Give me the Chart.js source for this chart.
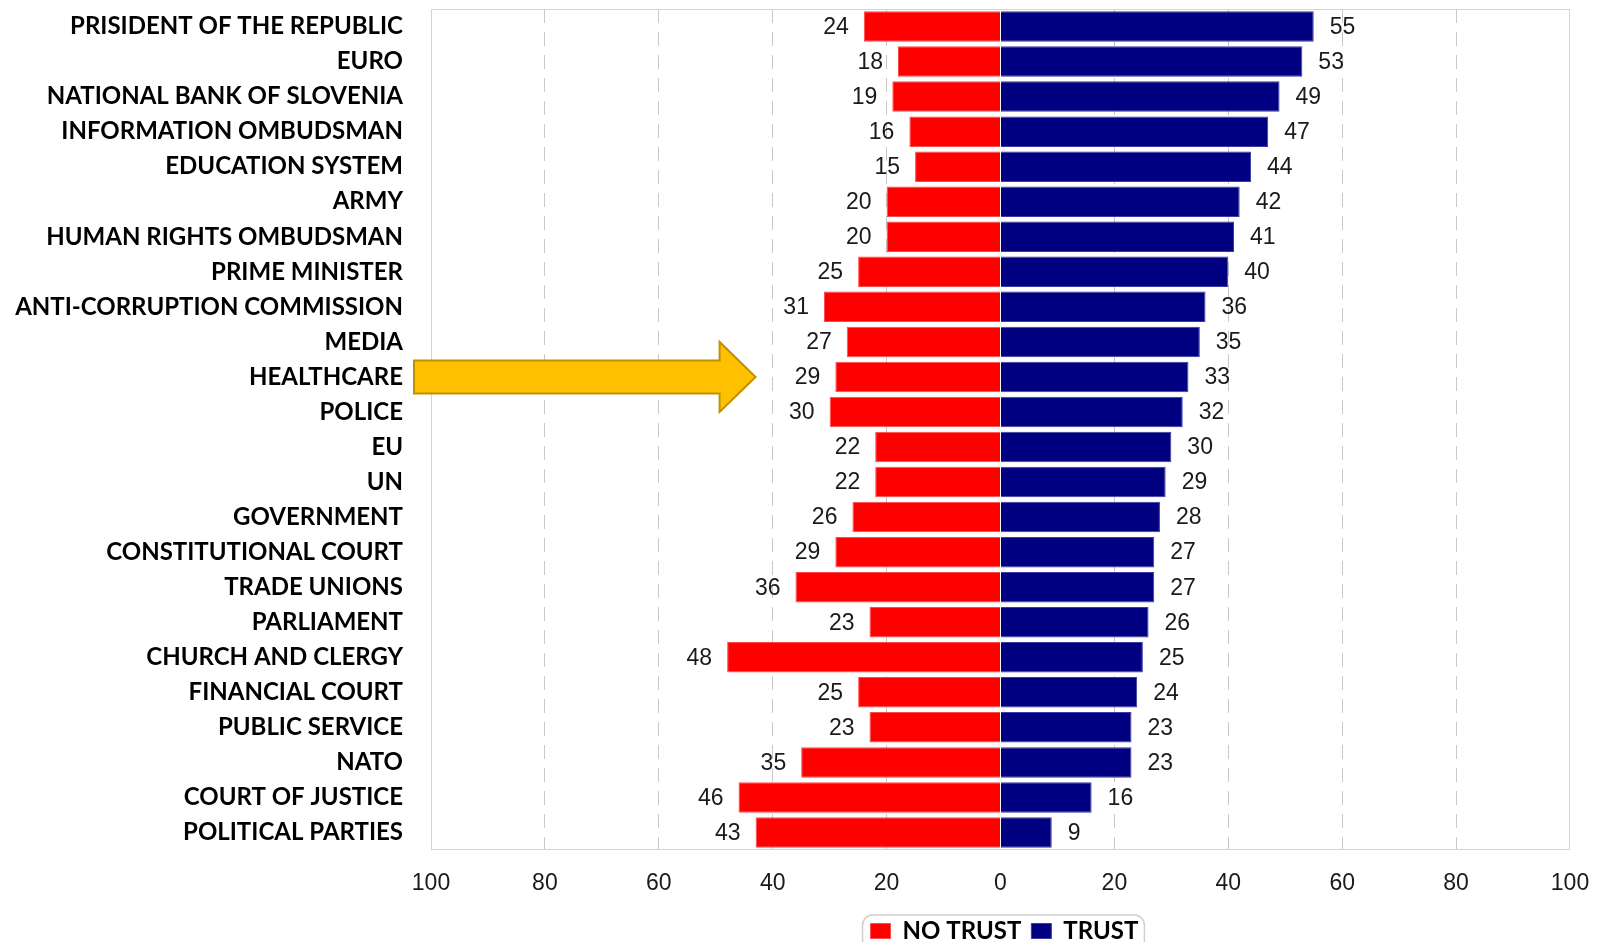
<!DOCTYPE html>
<html>
<head>
<meta charset="utf-8">
<script src="https://cdn.jsdelivr.net/npm/chart.js@4.4.1/dist/chart.umd.min.js"></script>
<style>
  html, body { margin: 0; padding: 0; background: #fff; overflow: hidden; }
  #wrap { position: relative; width: 1597px; height: 953px; }
</style>
</head>
<body>
<div id="wrap"><canvas id="trustChart"></canvas></div>
<script>
const institutions = [
  'PRISIDENT OF THE REPUBLIC', 'EURO', 'NATIONAL BANK OF SLOVENIA', 'INFORMATION OMBUDSMAN',
  'EDUCATION SYSTEM', 'ARMY', 'HUMAN RIGHTS OMBUDSMAN', 'PRIME MINISTER',
  'ANTI-CORRUPTION COMMISSION', 'MEDIA', 'HEALTHCARE', 'POLICE', 'EU', 'UN', 'GOVERNMENT',
  'CONSTITUTIONAL COURT', 'TRADE UNIONS', 'PARLIAMENT', 'CHURCH AND CLERGY',
  'FINANCIAL COURT', 'PUBLIC SERVICE', 'NATO', 'COURT OF JUSTICE', 'POLITICAL PARTIES'
];
const noTrust = [24, 18, 19, 16, 15, 20, 20, 25, 31, 27, 29, 30, 22, 22, 26, 29, 36, 23, 48, 25, 23, 35, 46, 43];
const trust = [55, 53, 49, 47, 44, 42, 41, 40, 36, 35, 33, 32, 30, 29, 28, 27, 27, 26, 25, 24, 23, 23, 16, 9];
const seriesNames = ['NO TRUST', 'TRUST'];
const axisTicks = [-100, -80, -60, -40, -20, 0, 20, 40, 60, 80, 100];
const highlighted = 'HEALTHCARE';

const labelFont = '"Lato", "Open Sans", sans-serif';
const numFont = '"Liberation Sans", Arial, sans-serif';

// value labels next to the bar ends
const valueLabels = {
  id: 'valueLabels',
  afterDatasetsDraw(chart) {
    const ctx = chart.ctx;
    ctx.save();
    ctx.font = '23px ' + numFont;
    ctx.fillStyle = '#1a1a1a';
    ctx.textBaseline = 'middle';
    chart.data.datasets.forEach((ds, i) => {
      chart.getDatasetMeta(i).data.forEach((bar, j) => {
        const v = ds.data[j];
        if (v < 0) {
          ctx.textAlign = 'right';
          ctx.fillText(Math.abs(v), bar.x - 15, bar.y + 1);
        } else {
          ctx.textAlign = 'left';
          ctx.fillText(v, bar.x + 16, bar.y + 1);
        }
      });
    });
    ctx.restore();
  }
};

// frame, arrow and legend box
const extras = {
  id: 'extras',
  afterLayout(chart) {
    const lg = chart.legend;
    const mid = (chart.chartArea.left + chart.chartArea.right) / 2 + 4;
    const shift = mid - (lg.left + lg.right) / 2;
    lg.left += shift;
    lg.right += shift;
  },
  afterDatasetsDraw(chart) {
    const ctx = chart.ctx;
    const a = chart.chartArea;
    ctx.save();
    ctx.strokeStyle = '#d4d4d4';
    ctx.lineWidth = 1;
    ctx.strokeRect(a.left + 0.5, a.top + 0.5, a.right - a.left - 1, a.bottom - a.top - 1);

    // yellow arrow pointing at the highlighted row
    const y = chart.scales.y.getPixelForValue(institutions.indexOf(highlighted));
    const tip = chart.scales.x.getPixelForValue(-noTrust[institutions.indexOf(highlighted)] - 14);
    const start = a.left - 17;
    const headBase = tip - 36;
    ctx.beginPath();
    ctx.moveTo(start, y - 16.5);
    ctx.lineTo(headBase, y - 16.5);
    ctx.lineTo(headBase, y - 35);
    ctx.lineTo(tip, y);
    ctx.lineTo(headBase, y + 35);
    ctx.lineTo(headBase, y + 16.5);
    ctx.lineTo(start, y + 16.5);
    ctx.closePath();
    ctx.fillStyle = '#FFC000';
    ctx.fill();
    ctx.strokeStyle = '#C09000';
    ctx.lineWidth = 2;
    ctx.stroke();
    ctx.restore();
  },
  afterDraw(chart) {
    const boxes = chart.legend.legendHitBoxes;
    if (!boxes || !boxes.length) return;
    const ctx = chart.ctx;
    const l = boxes[0].left - 8;
    const r = boxes[boxes.length - 1].left + boxes[boxes.length - 1].width + 6;
    const t = boxes[0].top - 4;
    ctx.save();
    ctx.strokeStyle = '#cfcfcf';
    ctx.lineWidth = 1.5;
    ctx.beginPath();
    ctx.roundRect(l, t, r - l, 60, 10);
    ctx.stroke();
    ctx.restore();
  }
};

const ctx = document.getElementById('trustChart').getContext('2d');
new Chart(ctx, {
  type: 'bar',
  data: {
    labels: institutions,
    datasets: [
      {
        label: seriesNames[0],
        data: noTrust.map(v => -v),
        backgroundColor: '#FF0000',
        borderColor: '#FF4a4a',
        borderWidth: 1,
        barPercentage: 0.87,
        categoryPercentage: 1
      },
      {
        label: seriesNames[1],
        data: trust,
        backgroundColor: '#000080',
        borderColor: '#3a3aa8',
        borderWidth: 1,
        barPercentage: 0.87,
        categoryPercentage: 1
      }
    ]
  },
  options: {
    indexAxis: 'y',
    responsive: true,
    maintainAspectRatio: false,
    animation: false,
    layout: { padding: { top: 9, right: 27, left: 0, bottom: 0 } },
    scales: {
      x: {
        stacked: true,
        min: -100,
        max: 100,
        afterBuildTicks(scale) {
          scale.ticks = axisTicks.map(v => ({ value: v }));
        },
        afterFit(scale) {
          scale.height = 59;
          scale.paddingLeft = 0;
          scale.paddingRight = 0;
        },
        ticks: {
          padding: 20,
          color: '#1a1a1a',
          font: { family: numFont, size: 23 },
          callback: v => Math.abs(v)
        },
        grid: {
          drawTicks: false,
          lineWidth: 1,
          color: c => (c.tick && (c.tick.value === 0 || Math.abs(c.tick.value) === 100)) ? 'rgba(0,0,0,0)' : '#c8c8c8'
        },
        border: { display: false, dash: [14, 9] }
      },
      y: {
        stacked: true,
        afterFit(scale) {
          scale.width = 431;
          scale.paddingTop = 0;
          scale.paddingBottom = 0;
        },
        ticks: {
          padding: 28,
          color: '#000',
          font: { family: labelFont, size: 24, weight: 'bold' }
        },
        grid: { display: false, drawTicks: false },
        border: { display: false }
      }
    },
    plugins: {
      legend: {
        position: 'bottom',
        labels: {
          boxWidth: 20,
          boxHeight: 15,
          padding: 10,
          color: '#000',
          font: { family: labelFont, size: 24, weight: 'bold' }
        }
      },
      tooltip: { enabled: false }
    }
  },
  plugins: [valueLabels, extras]
});
</script>
</body>
</html>
